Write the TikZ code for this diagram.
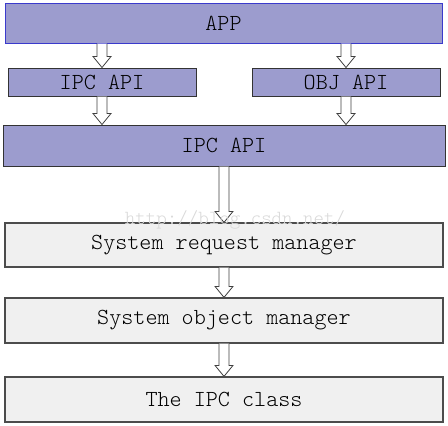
\documentclass[tikz,border=0pt]{standalone}
\usepackage{tikz}
\usetikzlibrary{calc,positioning}

\definecolor{lavender}{HTML}{9C9CCE}
\definecolor{appedge}{HTML}{3A3ACC}
\definecolor{paleboxfill}{HTML}{F0F0F0}

\tikzset{
  boxfont/.style={font=\ttfamily\fontseries{l}\fontsize{23}{26}\selectfont},
  bluebox/.style={draw=black!80, fill=lavender, line width=1pt, inner sep=0pt, boxfont},
  greybox/.style={draw=black!70, fill=paleboxfill, line width=1.2pt, inner sep=0pt, boxfont},
  arrowbody/.style={draw=black!75, fill=white, line width=0.8pt, line join=miter},
}

% hollow block arrow from a point down to another point
\newcommand{\downflow}[2]{%
  \draw[arrowbody] let \p1=(#1), \p2=(#2) in
    (\x1-5pt,\y1) -- (\x1-5pt,\y2+11pt) -- (\x1-9pt,\y2+11pt) -- (\x1,\y2)
    -- (\x1+9pt,\y2+11pt) -- (\x1+5pt,\y2+11pt) -- (\x1+5pt,\y1);}

\begin{document}
\begin{tikzpicture}[x=1pt, y=-1pt]
  \useasboundingbox (0,0) rectangle (448,426);
  % top layer
  \node[bluebox, draw=appedge, minimum width=437pt, minimum height=40pt] (app) at (223.5,23) {APP};
  \node[bluebox, minimum width=188pt, minimum height=28pt] (ipcapi) at (102,82) {IPC API};
  \node[bluebox, minimum width=188pt, minimum height=28pt] (objapi) at (346,82) {OBJ API};
  \node[bluebox, minimum width=442pt, minimum height=41pt] (core) at (224,145.5) {IPC API};
  % system layers
  \node[greybox, minimum width=438pt, minimum height=44pt] (reqmgr) at (224,245) {System request manager};
  \node[greybox, minimum width=438pt, minimum height=45pt] (objmgr) at (224,320.5) {System object manager};
  \node[greybox, minimum width=438pt, minimum height=45pt] (ipcclass) at (224,399.5) {The IPC class};
  % arrows
  \downflow{app.south -| ipcapi.north}{ipcapi.north}
  \downflow{app.south -| objapi.north}{objapi.north}
  \downflow{ipcapi.south}{ipcapi.south |- core.north}
  \downflow{objapi.south}{objapi.south |- core.north}
  \downflow{core.south}{reqmgr.north}
  \downflow{reqmgr.south}{objmgr.north}
  \downflow{objmgr.south}{ipcclass.north}
  % watermark on top
  \node[text=black!15, font=\ttfamily\fontseries{l}\fontsize{20}{22}\selectfont] (mark) at (235,220) {http://blog.csdn.net/};
\end{tikzpicture}
\end{document}
